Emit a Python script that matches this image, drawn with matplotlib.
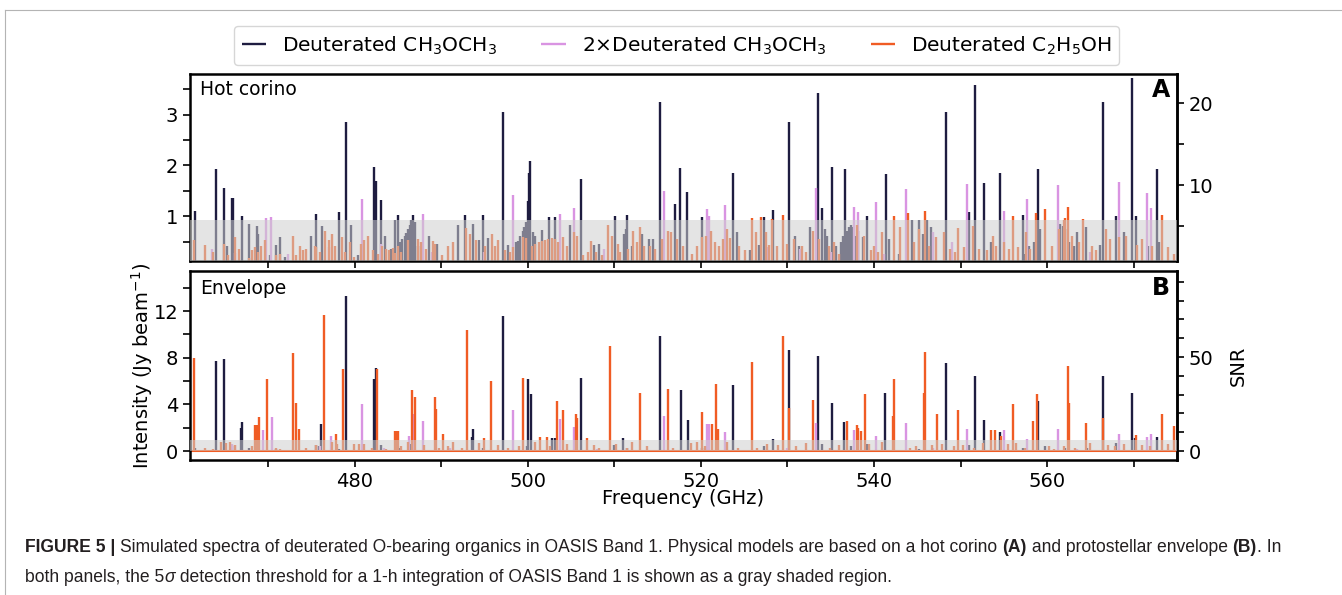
import matplotlib
matplotlib.use("Agg")
import matplotlib.pyplot as plt
from matplotlib import font_manager
from matplotlib.lines import Line2D
from matplotlib.ticker import MultipleLocator

# ---------------- data (GHz, Jy/beam) ----------------
# Panel A: hot corino
hot_dme_freq = [461.6, 464.05, 464.9, 465.8, 465.95, 467.0, 475.5, 478.2, 479.0, 482.2, 482.5, 483.0,
                485.05, 486.7, 492.8, 494.8, 497.1, 500.0, 500.1, 500.3, 502.5, 503.1, 506.1, 510.05,
                511.5, 515.3, 517.0, 517.6, 518.45, 520.15, 523.7, 527.25, 528.3, 530.2, 533.5, 534.0,
                535.2, 536.6, 539.15, 541.35, 548.3, 551.0, 551.7, 552.7, 554.6, 557.2, 558.9, 566.5,
                568.0, 569.8, 570.2, 572.65,
                465.3, 467.8, 468.7, 468.8, 470.2, 470.9, 471.4, 472.0, 475.0, 476.2, 479.6, 480.4,
                483.5, 484.2, 484.7, 485.2, 485.5, 485.8, 486.0, 486.2, 486.4, 486.55, 487.0, 487.3,
                488.6, 489.5, 491.9, 493.7, 494.4, 495.4, 497.7, 498.6, 498.9, 499.1, 499.4, 499.6,
                499.85, 500.6, 500.9, 501.6, 504.9, 507.7, 508.2, 511.1, 511.3, 512.0, 513.2, 514.0,
                514.5, 524.2, 525.7, 526.7, 530.9, 531.3, 532.6, 534.3, 534.6, 535.6, 536.2, 536.45,
                536.85, 537.1, 537.3, 537.55, 537.85, 538.2, 538.7, 541.7, 542.9, 544.4, 545.2, 545.6,
                546.1, 546.6, 553.5, 557.4, 557.9, 558.5, 559.2, 561.5, 561.8, 562.1, 562.5, 563.1,
                563.4, 564.5, 566.1, 568.9, 571.6, 572.9]
hot_dme_int = [1.10, 1.94, 1.56, 1.37, 1.37, 1.00, 1.05, 1.09, 2.86, 1.98, 1.69, 1.33,
               1.02, 1.02, 1.02, 1.03, 3.05, 1.30, 1.85, 2.08, 0.98, 0.98, 1.74, 1.01,
               1.02, 3.24, 1.24, 1.96, 1.48, 0.99, 1.86, 0.98, 1.13, 2.86, 3.42, 1.16,
               1.97, 1.93, 1.00, 1.83, 3.05, 1.09, 3.58, 1.66, 1.86, 1.02, 1.94, 3.25,
               1.01, 3.73, 1.00, 1.94,
               0.42, 0.84, 0.81, 0.66, 0.23, 0.44, 0.60, 0.20, 0.62, 0.80, 0.82, 0.24,
               0.62, 0.36, 0.92, 0.49, 0.55, 0.62, 0.67, 0.76, 0.82, 0.92, 0.88, 0.42,
               0.62, 0.46, 0.82, 0.84, 0.54, 0.57, 0.44, 0.49, 0.52, 0.62, 0.72, 0.79,
               0.88, 0.69, 0.62, 0.74, 0.83, 0.44, 0.46, 0.66, 0.76, 0.42, 0.66, 0.55,
               0.56, 0.70, 0.33, 0.44, 0.62, 0.42, 0.79, 0.76, 0.62, 0.42, 0.49, 0.62,
               0.72, 0.79, 0.82, 0.79, 0.62, 0.72, 0.59, 0.55, 0.26, 0.92, 0.92, 0.66,
               0.92, 0.79, 0.49, 0.26, 0.42, 0.49, 0.76, 0.84, 0.80, 0.76, 0.49, 0.42,
               0.69, 0.79, 0.44, 0.69, 0.42, 0.49]

hot_dme2_freq = [469.8, 470.4, 480.85, 487.9, 498.3, 503.7, 505.3, 515.8, 520.7, 520.95, 522.8, 533.3,
                 537.7, 538.1, 540.25, 543.7, 550.75, 555.0, 557.7, 561.2, 568.3, 571.5, 572.0,
                 466.2, 472.3, 483.0, 495.0, 531.4, 535.0, 541.2, 546.8, 463.5, 477.0, 489.0, 508.8,
                 527.8, 549.0, 565.0]
hot_dme2_int = [0.97, 0.99, 1.34, 1.05, 1.42, 1.05, 1.16, 1.49, 1.14, 1.00, 1.22, 1.55,
                1.18, 1.08, 1.29, 1.53, 1.63, 1.10, 1.34, 1.61, 1.67, 1.46, 1.16,
                0.27, 0.26, 0.46, 0.29, 0.36, 0.29, 0.26, 0.69, 0.35, 0.40, 0.30, 0.35,
                0.40, 0.50, 0.30]

hot_eth_freq = [525.9, 527.0, 529.5, 542.35, 543.9, 545.9, 556.1, 558.75, 559.7, 562.4, 562.0, 564.1, 573.3,
                461.5, 462.7, 463.7, 464.9, 465.4, 466.2, 466.6, 467.8, 468.1, 468.5, 468.9, 469.2,
                469.7, 470.9, 471.4, 472.9, 473.2, 473.7, 474.1, 474.4, 475.4, 475.6, 476.0, 476.6,
                477.0, 477.4, 477.7, 478.6, 478.9, 479.5, 479.9, 480.7, 481.1, 481.6, 482.1, 482.7,
                483.2, 483.6, 484.0, 484.4, 484.7, 485.0, 485.4, 486.2, 487.3, 487.7, 488.2, 489.1,
                489.3, 490.1, 490.8, 491.4, 492.9, 493.3, 494.0, 495.1, 495.9, 496.2, 496.6, 497.4,
                498.0, 498.3, 499.4, 499.8, 500.5, 500.9, 501.3, 501.6, 502.0, 502.4, 502.8, 503.2,
                503.5, 504.1, 504.5, 505.3, 505.7, 506.4, 507.0, 507.3, 507.9, 508.6, 509.3, 509.7,
                510.4, 510.7, 511.6, 512.2, 512.6, 513.0, 513.4, 514.1, 514.7, 515.5, 516.2, 516.6,
                517.2, 517.9, 519.0, 519.5, 520.1, 520.6, 521.2, 521.6, 522.1, 522.5, 523.0, 523.4,
                524.4, 525.1, 526.4, 527.5, 527.9, 528.2, 528.8, 529.9, 530.7, 531.7, 532.1, 532.9,
                533.6, 534.8, 535.4, 535.9, 538.0, 538.8, 539.6, 540.0, 540.5, 540.9, 543.05, 544.6,
                545.25, 546.4, 547.1, 548.1, 548.75, 549.4, 549.75, 550.4, 551.4, 552.1, 553.1, 553.7,
                554.1, 555.0, 555.6, 556.6, 557.5, 558.0, 560.6, 561.4, 561.9, 562.9, 563.7, 565.2,
                565.6, 566.8, 567.3, 568.3, 569.1, 570.4, 571.0, 572.1, 573.9, 574.65]
hot_eth_int = [0.97, 0.99, 1.03, 1.00, 1.07, 1.10, 1.00, 1.07, 1.15, 1.18, 0.96, 0.95, 1.03,
               0.54, 0.44, 0.29, 0.46, 0.23, 0.59, 0.36, 0.17, 0.33, 0.39, 0.29, 0.42,
               0.54, 0.23, 0.26, 0.62, 0.23, 0.42, 0.33, 0.36, 0.42, 0.39, 0.29, 0.72,
               0.54, 0.66, 0.42, 0.59, 0.29, 0.49, 0.20, 0.46, 0.54, 0.62, 0.33, 0.26,
               0.42, 0.36, 0.33, 0.37, 0.28, 0.42, 0.29, 0.54, 0.55, 0.49, 0.36, 0.52,
               0.46, 0.23, 0.42, 0.49, 0.77, 0.66, 0.54, 0.42, 0.66, 0.42, 0.54, 0.33,
               0.29, 0.39, 0.59, 0.57, 0.42, 0.46, 0.50, 0.52, 0.53, 0.55, 0.57, 0.55,
               0.49, 0.59, 0.42, 0.69, 0.62, 0.23, 0.29, 0.52, 0.29, 0.23, 0.83, 0.62,
               0.46, 0.29, 0.36, 0.72, 0.49, 0.79, 0.42, 0.42, 0.36, 0.55, 0.72, 0.69,
               0.55, 0.42, 0.26, 0.42, 0.59, 0.62, 0.72, 0.49, 0.42, 0.55, 0.76, 0.57,
               0.42, 0.33, 0.70, 0.69, 0.44, 0.95, 0.42, 0.46, 0.55, 0.42, 0.29, 0.72,
               0.55, 0.42, 0.49, 0.26, 0.82, 0.62, 0.33, 0.42, 0.29, 0.69, 0.79, 0.49,
               0.76, 0.42, 0.59, 0.69, 0.36, 0.29, 0.77, 0.39, 0.80, 0.36, 0.33, 0.62,
               0.42, 0.49, 0.36, 0.39, 0.69, 0.36, 0.42, 0.76, 0.92, 0.62, 0.49, 0.42,
               0.33, 0.76, 0.55, 0.59, 0.62, 0.44, 0.55, 0.42, 0.39, 0.26]

# Panel B: envelope
env_dme_freq = [464.05, 464.9, 466.9, 467.0, 476.15, 479.0, 482.2, 482.5, 493.6, 493.7, 497.1, 500.05,
                500.35, 502.8, 503.2, 506.2, 511.06, 515.3, 517.65, 518.5, 523.7, 530.16, 533.5, 535.2,
                536.55, 541.3, 548.3, 551.7, 552.75, 554.6, 558.9, 566.5, 569.8, 570.1, 572.65,
                461.6, 465.8, 467.8, 470.9, 475.5, 475.9, 478.2, 483.0, 485.2, 486.5, 494.8, 499.9,
                510.0, 511.5, 520.15, 527.3, 528.3, 534.0, 537.3, 539.15, 545.2, 551.0, 557.2, 559.7,
                562.1, 564.6, 568.0]
env_dme_int = [7.7, 7.93, 1.94, 2.45, 2.3, 13.26, 6.2, 7.13, 1.2, 1.86, 11.58, 6.2,
               4.85, 1.1, 1.1, 6.24, 1.1, 9.84, 5.27, 2.65, 5.65, 8.67, 8.13, 4.13,
               2.45, 5.0, 7.53, 6.47, 2.65, 1.66, 4.28, 6.4, 5.0, 1.1, 1.2,
               0.3, 0.4, 0.3, 0.2, 0.5, 0.4, 0.2, 0.5, 0.3, 0.6, 0.3, 0.4,
               0.5, 0.3, 0.3, 0.4, 1.0, 0.6, 0.4, 0.6, 0.2, 0.5, 0.3, 0.4,
               0.3, 0.3, 0.7]

env_dme2_freq = [469.4, 470.5, 477.3, 480.9, 486.3, 486.8, 487.9, 498.36, 503.75, 505.4, 515.8, 520.7,
                 520.95, 522.8, 533.3, 537.7, 540.2, 543.7, 550.75, 555.0, 557.7, 561.2, 568.3, 571.5,
                 572.0, 465.9, 466.2, 476.0, 483.4, 491.0, 508.0, 529.9, 546.8, 563.5]
env_dme2_int = [1.77, 2.93, 1.25, 4.05, 1.3, 3.16, 2.57, 3.48, 2.74, 2.1, 3.0, 2.3,
                2.3, 1.66, 2.44, 1.8, 1.3, 2.4, 1.9, 1.8, 1.0, 1.9, 1.5, 1.2,
                1.5, 0.6, 0.5, 0.4, 0.3, 0.3, 0.2, 0.3, 0.3, 0.2]

env_eth_freq = [461.5, 468.5, 468.7, 469.0, 469.85, 472.9, 473.2, 473.6, 476.5, 477.9, 478.66, 482.65,
                484.65, 484.9, 485.05, 486.6, 487.0, 489.3, 489.4, 490.2, 493.0, 495.0, 495.8, 499.45,
                501.4, 502.2, 503.4, 504.1, 505.6, 505.7, 506.9, 509.5, 513.0, 516.2, 520.1, 521.27,
                521.77, 522.0, 525.9, 529.47, 530.2, 532.97, 536.86, 538.0, 538.2, 538.5, 539.0, 542.17,
                542.35, 545.75, 545.94, 547.3, 549.75, 553.5, 554.0, 554.7, 556.1, 558.35, 558.8, 562.4,
                562.5, 564.45, 566.5, 570.2, 573.3, 574.6,
                462.7, 463.7, 464.6, 465.2, 465.6, 466.2, 468.1, 470.9, 471.4, 474.4, 475.6, 477.4,
                478.0, 479.9, 480.5, 481.1, 482.0, 483.6, 485.4, 486.2, 488.0, 489.8, 490.8, 491.4,
                492.4, 494.4, 496.6, 497.7, 499.0, 500.8, 502.6, 504.5, 507.6, 508.2, 510.2, 511.5,
                512.0, 513.8, 516.8, 518.9, 519.6, 520.5, 523.0, 524.3, 526.5, 527.6, 528.9, 531.0,
                532.2, 534.9, 536.0, 539.4, 540.9, 544.1, 544.9, 546.7, 547.8, 549.2, 550.3, 551.5,
                552.6, 555.5, 556.4, 557.4, 560.2, 560.8, 561.9, 563.2, 565.0, 567.0, 567.8, 568.9,
                571.0, 571.9, 574.0]
env_eth_int = [8.0, 2.2, 2.2, 2.93, 6.16, 8.38, 4.13, 1.88, 11.7, 1.5, 7.0, 7.07,
               1.7, 1.7, 1.7, 5.2, 4.6, 4.6, 3.6, 1.45, 10.4, 1.1, 6.0, 6.24,
               1.2, 1.2, 4.27, 3.56, 3.14, 2.85, 1.1, 9.0, 5.0, 5.3, 3.37, 2.3,
               5.76, 1.93, 7.6, 9.84, 3.7, 4.4, 2.6, 2.2, 2.0, 1.7, 4.85, 3.0,
               6.2, 4.96, 8.53, 3.14, 3.56, 1.83, 1.8, 1.3, 4.0, 2.6, 4.93, 7.3,
               4.1, 2.4, 2.8, 1.4, 3.16, 2.14,
               0.3, 0.2, 0.8, 0.7, 0.8, 0.5, 0.4, 0.3, 0.2, 0.3, 0.5, 0.8,
               0.6, 0.6, 0.6, 0.6, 0.3, 0.2, 0.4, 0.8, 0.5, 0.3, 0.4, 0.8,
               0.3, 0.7, 0.5, 0.3, 0.4, 0.8, 0.4, 0.6, 0.5, 0.3, 0.6, 0.3,
               0.8, 0.4, 0.3, 0.7, 0.8, 0.4, 0.8, 0.3, 0.3, 0.6, 0.5, 0.4,
               0.7, 0.3, 0.5, 0.6, 0.8, 0.3, 0.4, 0.5, 0.6, 0.4, 0.5, 0.3,
               0.7, 0.6, 0.7, 0.3, 0.4, 0.2, 0.4, 0.3, 0.7, 0.5, 0.4, 0.6,
               0.5, 0.4, 0.6]

labels = ['Deuterated CH$_3$OCH$_3$', '2$\\times$Deuterated CH$_3$OCH$_3$', 'Deuterated C$_2$H$_5$OH']
colors = ['#1e1c40', '#d994e2', '#f05c24']
threshold = 0.92   # 5 sigma, Jy/beam
snr_per_jy = 6.2

# ---------------- plot ----------------
plt.rcParams['mathtext.default'] = 'regular'
plt.rcParams['font.size'] = 14

fig = plt.figure(figsize=(13.42, 5.95), dpi=100)
axA = fig.add_axes([0.1416, 0.5613, 0.7355, 0.3143])
axB = fig.add_axes([0.1416, 0.2269, 0.7355, 0.3168], sharex=axA)

panels = [
    (axA, [(hot_dme_freq, hot_dme_int), (hot_dme2_freq, hot_dme2_int), (hot_eth_freq, hot_eth_int)]),
    (axB, [(env_dme_freq, env_dme_int), (env_dme2_freq, env_dme2_int), (env_eth_freq, env_eth_int)]),
]
handles = []
for ax, series in panels:
    for (f, i), c, lab in zip(series, colors, labels):
        h = ax.vlines(f, 0, i, color=c, lw=1.7, label=lab, zorder=2)
        if ax is axA:
            handles.append(h)
    ax.axhspan(0, threshold, color='#cfcfcf', alpha=0.55, lw=0, zorder=3)
    for s in ax.spines.values():
        s.set_linewidth(1.8)
    ax.tick_params(which='both', direction='out', length=5, width=1.2, labelsize=14)

axB.axhline(0, color=colors[2], lw=1.5, zorder=2.5)

axA.set_xlim(461, 575)
axA.set_ylim(0.12, 3.8)
axB.set_ylim(-0.77, 15.4)
axA.xaxis.set_major_locator(MultipleLocator(20))
axA.xaxis.set_minor_locator(MultipleLocator(10))
axA.tick_params(labelbottom=False)
axA.yaxis.set_major_locator(MultipleLocator(1))
axA.yaxis.set_minor_locator(MultipleLocator(0.5))
axB.yaxis.set_major_locator(MultipleLocator(4))
axB.yaxis.set_minor_locator(MultipleLocator(2))

for ax, major, minor in [(axA, [10, 20], [5, 15]), (axB, [0, 50], [10, 20, 30, 40, 60, 70, 80, 90])]:
    sec = ax.secondary_yaxis('right', functions=(lambda x: x * snr_per_jy, lambda s: s / snr_per_jy))
    sec.set_yticks(major)
    sec.set_yticks(minor, minor=True)
    sec.spines['right'].set_linewidth(1.8)
    sec.tick_params(which='both', direction='out', length=5, width=1.2, labelsize=14)
    if ax is axB:
        sec.set_ylabel('SNR', fontsize=14, labelpad=11)

axA.text(0.01, 0.915, 'Hot corino', transform=axA.transAxes, va='center', fontsize=13.5)
axA.text(0.993, 0.915, 'A', transform=axA.transAxes, va='center', ha='right', fontsize=17, fontweight='bold')
axB.text(0.01, 0.912, 'Envelope', transform=axB.transAxes, va='center', fontsize=13.5)
axB.text(0.993, 0.912, 'B', transform=axB.transAxes, va='center', ha='right', fontsize=17, fontweight='bold')

axB.set_xlabel('Frequency (GHz)', fontsize=14, labelpad=-1)
axB.set_ylabel('Intensity (Jy beam$^{-1}$)', fontsize=14, labelpad=-1)

axA.legend(handles=handles, labels=labels, ncol=3, loc='lower center', bbox_to_anchor=(0.493, 1.05),
           fontsize=14.5, frameon=True, handlelength=1.2, columnspacing=2.2, borderaxespad=0)

# frame lines of the figure box
fig.add_artist(Line2D([5 / 1342, 5 / 1342], [0, 1 - 10 / 595], transform=fig.transFigure, color='#b4b4b4', lw=0.8))
fig.add_artist(Line2D([5 / 1342, 1], [1 - 10 / 595, 1 - 10 / 595], transform=fig.transFigure, color='#b4b4b4', lw=0.8))

# caption
names = {f.name for f in font_manager.fontManager.ttflist}
cap_font = 'Liberation Sans Narrow' if 'Liberation Sans Narrow' in names else 'Liberation Sans'
cap_size = 12.65
renderer = fig.canvas.get_renderer()


def caption_line(y_px, parts):
    x = 25 / 1342
    for s, kw in parts:
        t = fig.text(x, 1 - y_px / 595, s, fontsize=cap_size, family=cap_font, va='center', color='#231f20', **kw)
        x += t.get_window_extent(renderer).width / 1342


caption_line(548, [('FIGURE 5 | ', {'fontweight': 'bold'}),
                   ('Simulated spectra of deuterated O-bearing organics in OASIS Band 1. Physical models are based on a hot corino ', {}),
                   ('(A)', {'fontweight': 'bold'}),
                   (' and protostellar envelope ', {}),
                   ('(B)', {'fontweight': 'bold'}),
                   ('. In', {})])
caption_line(578, [('both panels, the 5', {}),
                   ('σ', {'style': 'italic'}),
                   (' detection threshold for a 1-h integration of OASIS Band 1 is shown as a gray shaded region.', {})])

fig.savefig('out.png', dpi=100)
